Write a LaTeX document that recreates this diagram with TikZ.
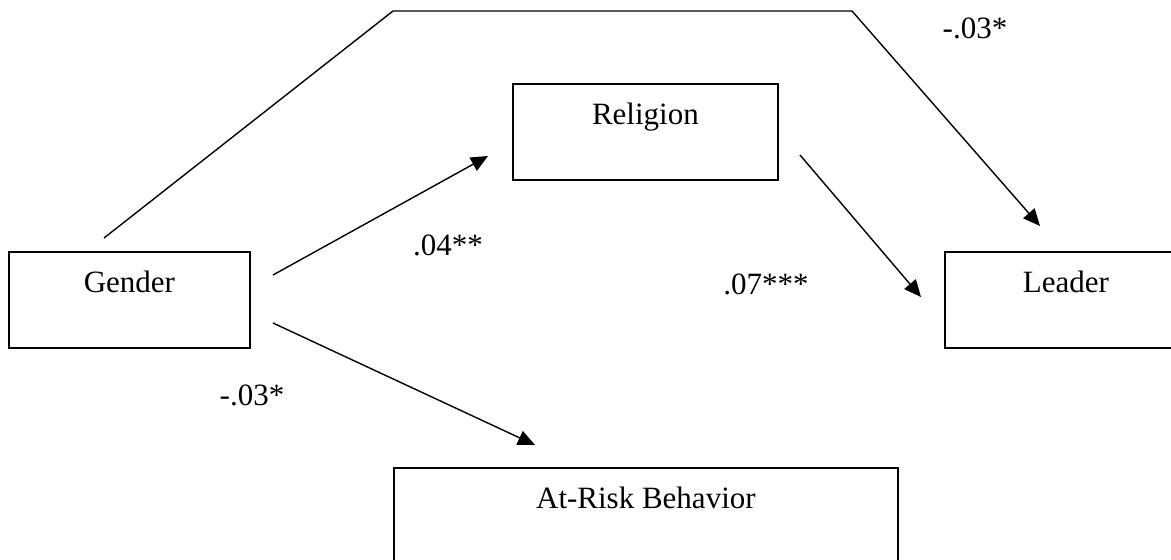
\documentclass[tikz,border=0pt]{standalone}
\usepackage{fontspec}
\setmainfont{Liberation Serif}
\usetikzlibrary{arrows.meta}
\begin{document}
\begin{tikzpicture}[x=0.5pt,y=-0.5pt,
  box/.style={draw,line width=0.9pt,anchor=north west,inner sep=0pt,
    minimum height=48pt,text height=20.5pt,text depth=27.5pt,
    font=\fontsize{15.5}{18}\selectfont},
  lbl/.style={anchor=base,inner sep=0pt,font=\fontsize{15.5}{18}\selectfont},
  conn/.style={line width=0.7pt},
  arr/.style={conn,-{Triangle[length=8.5pt,width=7.5pt]}}]
\clip (0,0) rectangle (1171,559);
\fill[white] (0,0) rectangle (1171,559);
\node[box,minimum width=120.5pt] (gender) at (8,251) {Gender};
\node[box,minimum width=132.5pt,minimum height=47.5pt] (religion) at (512,83) {Religion};
\node[box,minimum width=121pt] (leader) at (944,251) {Leader};
\node[box,minimum width=252pt] (risk) at (393,467) {At-Risk Behavior};
% connector end points
\coordinate (t0) at (104,238);
\coordinate (t1) at (393,11);
\coordinate (t2) at (852,11);
\coordinate (t3) at (1040,226);
\coordinate (a0) at (273,275);
\coordinate (a1) at (488,156);
\coordinate (b0) at (800,155);
\coordinate (b1) at (921,297);
\coordinate (c0) at (273,323);
\coordinate (c1) at (535,445);
\draw[arr] (t0) -- (t1) -- (t2) -- (t3);
\draw[arr] (a0) -- (a1);
\draw[arr] (b0) -- (b1);
\draw[arr] (c0) -- (c1);
\node[lbl] (l1) at (975,38) {-.03*};
\node[lbl] (l2) at (448,255) {.04**};
\node[lbl] (l3) at (766,294) {.07***};
\node[lbl] (l4) at (252,405) {-.03*};
\end{tikzpicture}
\end{document}
